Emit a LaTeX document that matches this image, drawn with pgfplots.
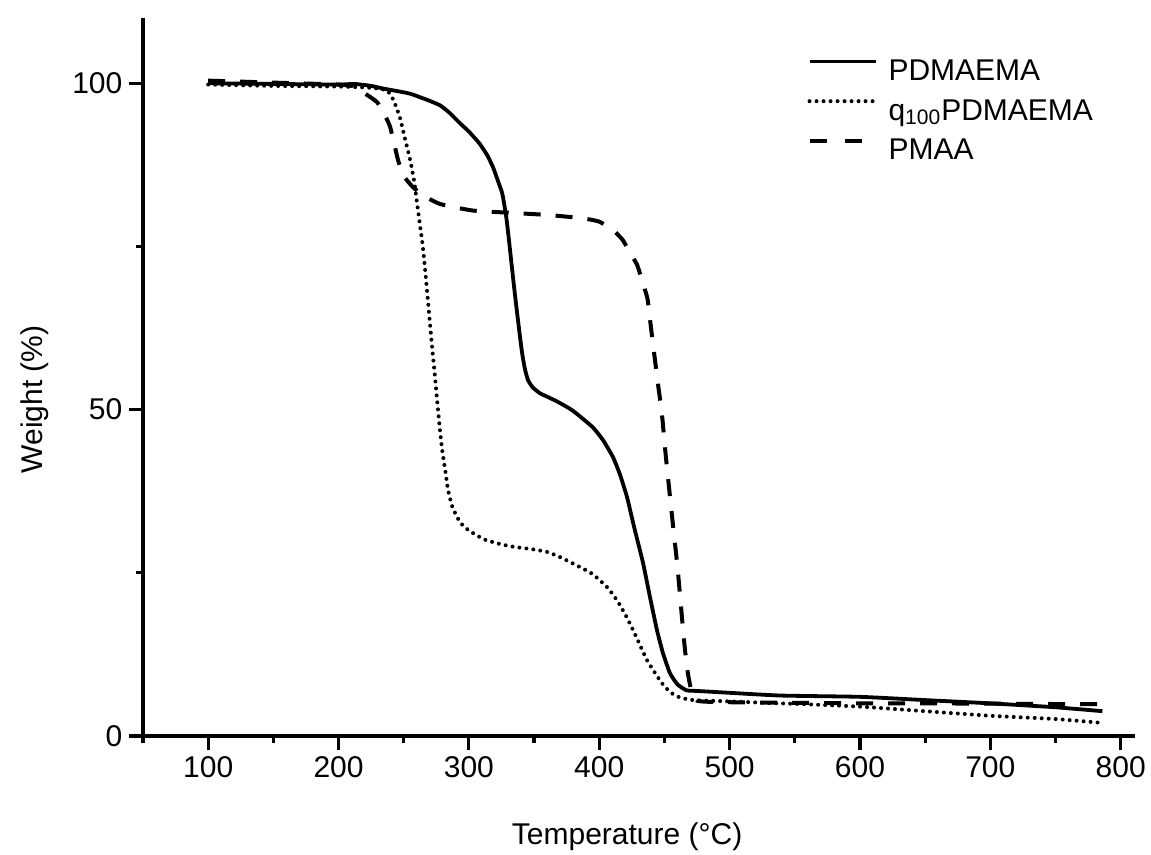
\documentclass[border=0pt]{standalone}
\usepackage{pgfplots}
\pgfplotsset{compat=1.18}
\usepackage{fontspec}
\setmainfont{Liberation Sans}
\newcommand\fs{\fontsize{15pt}{18pt}\selectfont}
\begin{document}
\begin{tikzpicture}
\begin{axis}[
  at={(0,0)}, anchor=south west,
  scale only axis, width=496pt, height=359pt,
  xmin=50, xmax=811, ymin=0, ymax=110,
  axis lines=left, axis line style={-, line width=1.6pt},
  every tick/.style={line width=1.6pt, black},
  tick align=outside,
  major tick length=6.8pt, minor tick length=3.6pt,
  xtick={100,200,...,800}, minor xtick={50,150,...,750},
  ytick={0,50,100}, minor ytick={25,75},
  /pgf/number format/assume math mode=true,
  tick label style={font=\fs},
  xlabel={Temperature (°C)}, ylabel={Weight (\%)},
  label style={font=\fs},
  xlabel style={at={(axis description cs:0.488,-0.1518)}, anchor=base},
  ylabel style={at={(axis description cs:-0.1018,0.469)}, anchor=base, rotate=0},
  legend cell align=left,
  legend style={draw=none, fill=none, font=\fs, at={(axis description cs:0.6695,0.944)}, anchor=north west, inner sep=0pt, row sep=5.8pt,
    nodes={inner xsep=5.5pt, inner ysep=0pt, text height=11pt, text depth=3pt}},
  legend image code/.code={\draw[#1] (0pt,5.5pt) -- (33pt,5.5pt);},
]
\addplot[black, line width=1.9pt, smooth, tension=0.3] coordinates {
(100,100.0)(150,99.9)(200,99.8)(212,99.9)(225,99.6)(234,99.2)(245,98.8)(255,98.4)(262,97.9)(270,97.3)(278,96.6)(285,95.5)(293,93.9)(300,92.6)(308,90.8)(314,89.0)(318.6,87.1)(322,85.2)(325.5,83.2)(327.5,81)(329,79)(331,75.5)(333,71.8)(335,68.2)(337,64.8)(339,61.5)(340.8,58.7)(343,56.2)(345.4,54.5)(349,53.4)(354.6,52.5)(362,51.8)(370,51.0)(380,49.8)(395,47.3)(403,45.3)(410.6,42.7)(416,40)(421.3,36.6)(427,31.8)(433.6,26.5)(439,21.2)(444.3,16.2)(449,12.6)(454.3,9.6)(460,7.9)(467,7.0)(475,6.9)(492.6,6.7)(538.6,6.2)(600,6.0)(650,5.5)(700,5.0)(750,4.4)(786,3.8)
};
\addlegendentry{PDMAEMA}
\addplot[black, line width=2pt, line cap=round, dash pattern=on 0pt off 3.5pt, smooth, tension=0.3] coordinates {
(100,99.8)(150,99.6)(200,99.5)(225,99.3)(237,98.9)(242,97.5)(247,94.8)(251,91.5)(255,88.2)(258,85)(260,82)(263,77.5)(265,74.4)(268,68)(270,63.5)(272,59.1)(274,55)(275.6,51.5)(277.5,47.5)(279.5,43.8)(282,40.5)(284,37.7)(287,35.3)(291,33.5)(296,32.1)(303,31.1)(312,30.1)(324,29.4)(334,29.0)(349,28.6)(360,28.2)(370,27.4)(385,25.9)(395,24.8)(406,22.8)(413.6,20.8)(420,18.6)(426,16.2)(429,14.9)(436.7,11.6)(444.3,9.2)(450,7.6)(456.6,6.4)(462,5.9)(472,5.5)(500,5.3)(538.6,5.0)(554,4.9)(600,4.5)(650,3.8)(700,3.1)(750,2.6)(786,2.0)
};
\addlegendentry{q\textsubscript{100}PDMAEMA}
\addplot[black, line width=2pt, dash pattern=on 8.5pt off 7.5pt, smooth, tension=0.3,
  legend image code/.code={\draw[black, line width=2pt, dash pattern=on 8.5pt off 9pt] (0pt,5.5pt) -- (26pt,5.5pt);}] coordinates {
(100,100.4)(150,100.1)(200,99.8)(212,99.5)(222,98.2)(229.6,97.1)(235,95.3)(239.6,93.3)(245.7,88.2)(250,85.8)(257,84.1)(265,82.8)(278,81.5)(303,80.5)(337,80.1)(362,79.8)(387.6,79.3)(400,78.8)(410.6,77.5)(418,76)(423.6,74)(429,72.2)(433.6,69.3)(437,67)(439,63.7)(442.8,57.5)(445,54)(448,49.5)(451,43)(454.3,36.6)(457,31.5)(459.7,26.5)(462,21.5)(464.3,16.2)(466,12.8)(468,9.6)(471,6.6)(475,5.4)(490,5.2)(538,5.1)(600,5.0)(650,5.0)(700,4.95)(750,4.9)(786,4.9)
};
\addlegendentry{PMAA}
\end{axis}
\pgfresetboundingbox
\path[use as bounding box] (-71.5pt,-59.5pt) rectangle (504pt,368pt);
\end{tikzpicture}
\end{document}
